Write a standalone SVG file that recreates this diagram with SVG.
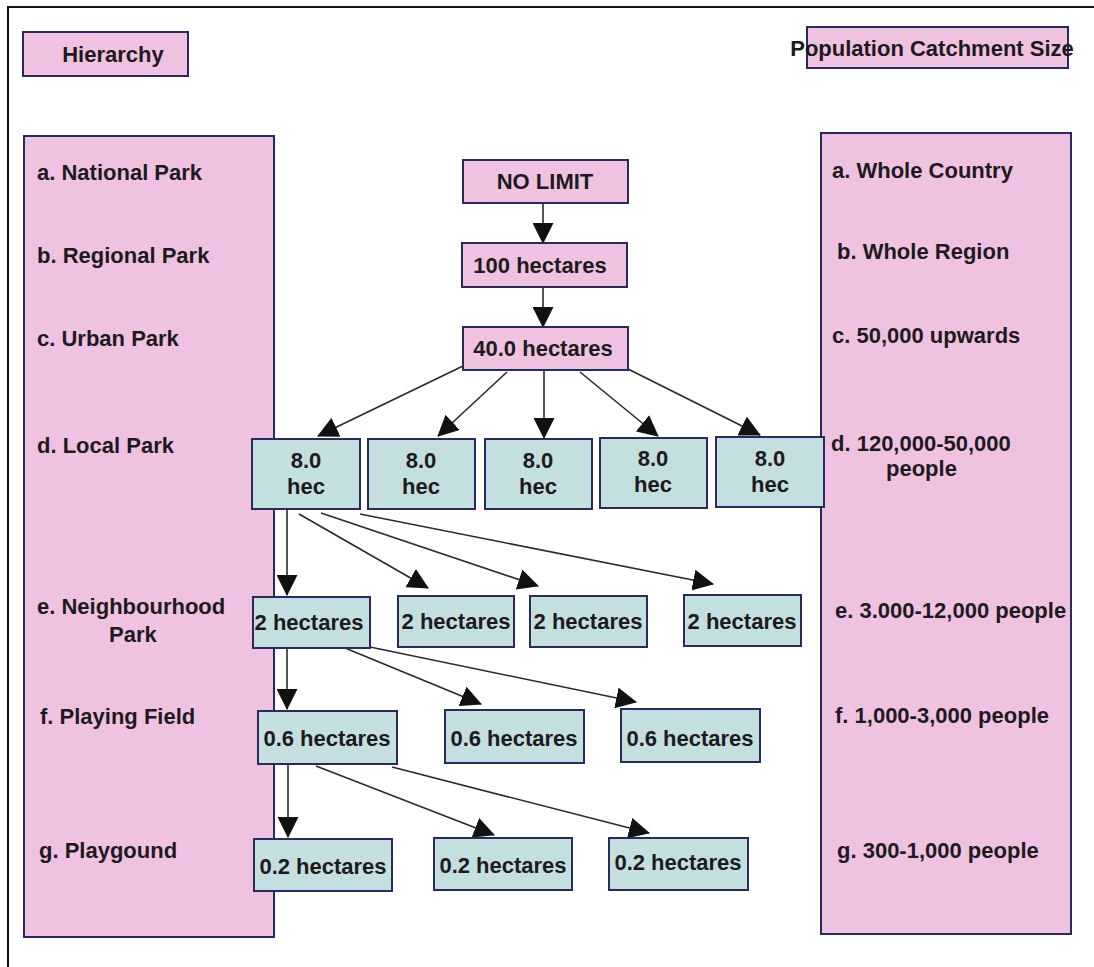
<svg xmlns="http://www.w3.org/2000/svg" width="1094" height="967" viewBox="0 0 1094 967">
<style>
.pink{fill:#f0c2e2;stroke:#2b2a5c;stroke-width:2}
.teal{fill:#c3dfe0;stroke:#2b2a5c;stroke-width:2}
text{font-family:"Liberation Sans",Arial,sans-serif;font-weight:bold;font-size:22px;fill:#1c1a1e}
.c{text-anchor:middle}
.conn line{stroke:#2a2a2a;stroke-width:1.6;marker-end:url(#ah)}
</style>
<defs>
<marker id="ah" markerUnits="userSpaceOnUse" markerWidth="21" markerHeight="21" refX="20" refY="10.5" orient="auto" viewBox="0 0 21 21">
<path d="M0,0 L21,10.5 L0,21 z" fill="#111"/>
</marker>
</defs>
<rect width="1094" height="967" fill="#ffffff"/>
<path d="M8,967 V7 H1094" fill="none" stroke="#111" stroke-width="2"/>

<g id="hierarchy-title"><rect class="pink" x="23" y="32" width="165" height="44"/><text class="c" x="113" y="62">Hierarchy</text></g>
<g id="population-title"><rect class="pink" x="807" y="27" width="261" height="41"/><text class="c" x="932" y="56">Population Catchment Size</text></g>

<g id="hierarchy-column">
<rect class="pink" x="24" y="136" width="250" height="801"/>
<text x="37" y="180">a. National Park</text>
<text x="37" y="263">b. Regional Park</text>
<text x="37" y="346">c. Urban Park</text>
<text x="37" y="453">d. Local Park</text>
<text x="37" y="614">e. Neighbourhood</text>
<text x="109" y="642">Park</text>
<text x="40" y="724">f. Playing Field</text>
<text x="39" y="858">g. Playgound</text>
</g>

<g id="population-column">
<rect class="pink" x="821" y="133" width="250" height="801"/>
<text x="832" y="178">a. Whole Country</text>
<text x="837" y="259">b. Whole Region</text>
<text x="832" y="343">c. 50,000 upwards</text>
<text x="831" y="451">d. 120,000-50,000</text>
<text x="886" y="476">people</text>
<text x="835" y="618">e. 3.000-12,000 people</text>
<text x="835" y="723">f. 1,000-3,000 people</text>
<text x="837" y="858">g. 300-1,000 people</text>
</g>

<g id="connectors" class="conn">
<line x1="543" y1="203" x2="543" y2="243"/>
<line x1="543" y1="287" x2="543" y2="327"/>
<line x1="463" y1="366" x2="318" y2="436"/>
<line x1="507" y1="372" x2="438" y2="436"/>
<line x1="544" y1="370" x2="544" y2="438"/>
<line x1="580" y1="372" x2="658" y2="436"/>
<line x1="628" y1="369" x2="760" y2="435"/>
<line x1="287" y1="510" x2="287" y2="595"/>
<line x1="299" y1="514" x2="428" y2="588"/>
<line x1="321" y1="513" x2="538" y2="586"/>
<line x1="360" y1="514" x2="713" y2="584"/>
<line x1="287" y1="648" x2="287" y2="709"/>
<line x1="345" y1="648" x2="481" y2="704"/>
<line x1="370" y1="647" x2="636" y2="702"/>
<line x1="288" y1="765" x2="288" y2="837"/>
<line x1="316" y1="766" x2="494" y2="835"/>
<line x1="392" y1="767" x2="649" y2="833"/>
</g>

<g id="n-nolimit"><rect class="pink" x="463" y="160" width="165" height="43"/><text class="c" x="545" y="189">NO LIMIT</text></g>
<g id="n-100"><rect class="pink" x="462" y="243" width="165" height="44"/><text class="c" x="540" y="273">100 hectares</text></g>
<g id="n-40"><rect class="pink" x="463" y="327" width="165" height="43"/><text class="c" x="543" y="356">40.0 hectares</text></g>

<g id="n-8a"><rect class="teal" x="252" y="439" width="108" height="70"/><text class="c" x="306" y="468">8.0</text><text class="c" x="306" y="494">hec</text></g>
<g id="n-8b"><rect class="teal" x="368" y="439" width="107" height="70"/><text class="c" x="421" y="468">8.0</text><text class="c" x="421" y="494">hec</text></g>
<g id="n-8c"><rect class="teal" x="485" y="439" width="107" height="70"/><text class="c" x="538" y="468">8.0</text><text class="c" x="538" y="494">hec</text></g>
<g id="n-8d"><rect class="teal" x="600" y="438" width="107" height="70"/><text class="c" x="653" y="466">8.0</text><text class="c" x="653" y="492">hec</text></g>
<g id="n-8e"><rect class="teal" x="716" y="437" width="108" height="70"/><text class="c" x="770" y="466">8.0</text><text class="c" x="770" y="492">hec</text></g>

<g id="n-2a"><rect class="teal" x="253" y="597" width="117" height="51"/><text class="c" x="309" y="630">2 hectares</text></g>
<g id="n-2b"><rect class="teal" x="398" y="596" width="116" height="51"/><text class="c" x="456" y="629">2 hectares</text></g>
<g id="n-2c"><rect class="teal" x="530" y="596" width="117" height="51"/><text class="c" x="588" y="629">2 hectares</text></g>
<g id="n-2d"><rect class="teal" x="684" y="595" width="117" height="51"/><text class="c" x="742" y="629">2 hectares</text></g>

<g id="n-06a"><rect class="teal" x="258" y="711" width="139" height="53"/><text class="c" x="327" y="746">0.6 hectares</text></g>
<g id="n-06b"><rect class="teal" x="445" y="710" width="139" height="53"/><text class="c" x="514" y="746">0.6 hectares</text></g>
<g id="n-06c"><rect class="teal" x="621" y="709" width="139" height="53"/><text class="c" x="690" y="746">0.6 hectares</text></g>

<g id="n-02a"><rect class="teal" x="254" y="839" width="138" height="52"/><text class="c" x="323" y="874">0.2 hectares</text></g>
<g id="n-02b"><rect class="teal" x="434" y="838" width="138" height="52"/><text class="c" x="503" y="873">0.2 hectares</text></g>
<g id="n-02c"><rect class="teal" x="609" y="838" width="139" height="52"/><text class="c" x="678" y="870">0.2 hectares</text></g>
</svg>
